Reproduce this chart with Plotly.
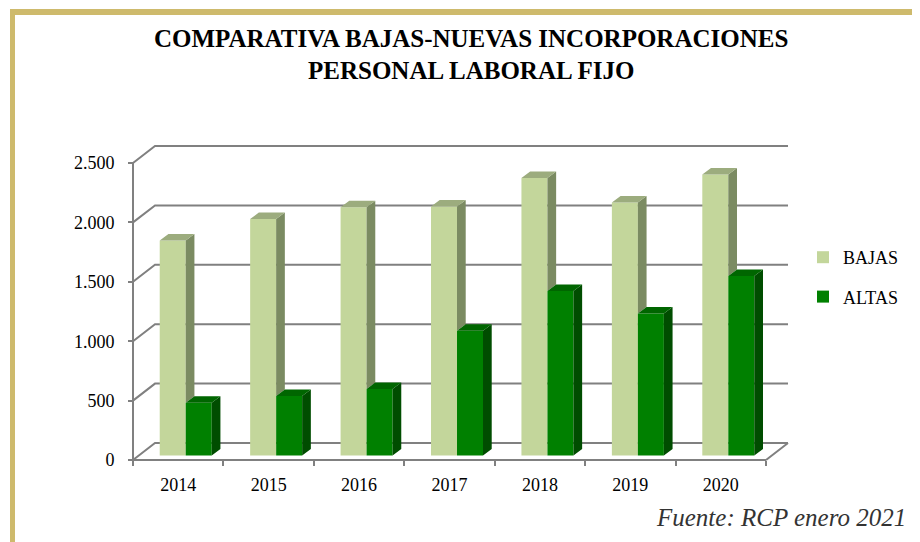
import plotly.graph_objects as go

# ---------------- data ----------------
years = ["2014", "2015", "2016", "2017", "2018", "2019", "2020"]
bajas = [1810, 1990, 2090, 2095, 2335, 2130, 2365]
altas = [445, 500, 560, 1050, 1385, 1195, 1510]
y_ticks = [0, 500, 1000, 1500, 2000, 2500]
y_tick_labels = ["0", "500", "1.000", "1.500", "2.000", "2.500"]

title_lines = ["COMPARATIVA BAJAS-NUEVAS INCORPORACIONES", "PERSONAL LABORAL FIJO"]
source_text = "Fuente: RCP enero 2021"

# ---------------- geometry (screen pixels) ----------------
OFF = 8                                       # page body margin
W, H = 920 - OFF, 542 - OFF
PL, PR, PT, PB = 120, 795, 138, 468          # plot area in screen pixels
X0PX, XSTEP = 133.0, 90.43                    # front axis left edge / px per category
Y0PX, YSCALE = 460.0, 297.0 / 2500.0          # front zero line / px per unit

def ux(px):
    return px / XSTEP

def uy(px):
    return px / YSCALE

def paper_x(px):
    return (px - PL) / (PR - PL)

def paper_y(py):
    return (PB - py) / (PB - PT)

n = len(years)
pos = list(range(n))
x_range = [-0.5 - ux(X0PX - PL), -0.5 + ux(PR - X0PX)]
y_range = [-uy(PB - Y0PX), uy(Y0PX - PT)]

WALL_DX, WALL_DY = ux(22), uy(17)
BASE = uy(4.5)
BAR_OFF, BAR_W = -ux(18.5), ux(26)
BDX, BDY = ux(8.7), uy(6.5)

C_BAJ, C_BAJ_SIDE, C_BAJ_TOP = "#C3D69B", "#7B8B62", "#9CAC7E"
C_ALT, C_ALT_SIDE, C_ALT_TOP = "#008000", "#004D00", "#006600"
GRID = "#808080"
FONT = "Liberation Serif, Times New Roman, serif"

fig = go.Figure()

fig.add_trace(go.Bar(
    x=pos, y=bajas, base=BASE, width=BAR_W, offset=BAR_OFF,
    marker=dict(color=C_BAJ, line=dict(width=0)), name="BAJAS",
    legendgroup="b", hoverinfo="skip"))
fig.add_trace(go.Bar(
    x=pos, y=altas, base=BASE, width=BAR_W, offset=BAR_OFF + BAR_W,
    marker=dict(color=C_ALT, line=dict(width=0)), name="ALTAS",
    legendgroup="a", hoverinfo="skip"))

def faces(values, offset, lower=None):
    sx, sy, tx, ty = [], [], [], []
    for i, v in enumerate(values):
        xl = pos[i] + offset
        xr = xl + BAR_W
        top = BASE + v
        bot = BASE if lower is None else BASE + min(lower[i], v)
        if top > bot:
            sx += [xr, xr + BDX, xr + BDX, xr, xr, None]
            sy += [bot, bot + BDY, top + BDY, top, bot, None]
        tx += [xl, xl + BDX, xr + BDX, xr, xl, None]
        ty += [top, top + BDY, top + BDY, top, top, None]
    return sx, sy, tx, ty

for vals, off, low, cs, ct in [
    (bajas, BAR_OFF, altas, C_BAJ_SIDE, C_BAJ_TOP),
    (altas, BAR_OFF + BAR_W, None, C_ALT_SIDE, C_ALT_TOP),
]:
    sx, sy, tx, ty = faces(vals, off, low)
    fig.add_trace(go.Scatter(x=sx, y=sy, mode="lines", fill="toself", fillcolor=cs,
                             line=dict(width=0, color=cs), showlegend=False, hoverinfo="skip"))
    fig.add_trace(go.Scatter(x=tx, y=ty, mode="lines", fill="toself", fillcolor=ct,
                             line=dict(width=0, color=ct), showlegend=False, hoverinfo="skip"))

xl_front, xr_front = -0.5, n - 0.5
parts = []
for v in y_ticks:
    parts.append(f"M{xl_front},{v} L{xl_front + WALL_DX},{v + WALL_DY} L{xr_front + WALL_DX},{v + WALL_DY}")
parts.append(f"M{xr_front},0 L{xr_front + WALL_DX},{WALL_DY}")
parts.append(f"M{xl_front},{y_ticks[-1]} L{xl_front},0 L{xr_front},0")
shapes = [dict(type="path", xref="x", yref="y", path=" ".join(parts),
               line=dict(color=GRID, width=2), layer="below")]

gold = "#CEBA6C"
shapes.append(dict(type="rect", xref="paper", yref="paper",
                   x0=paper_x(10), x1=paper_x(930), y0=paper_y(9), y1=paper_y(15),
                   fillcolor=gold, line=dict(width=0), layer="above"))
shapes.append(dict(type="rect", xref="paper", yref="paper",
                   x0=paper_x(10), x1=paper_x(15), y0=paper_y(9), y1=paper_y(550),
                   fillcolor=gold, line=dict(width=0), layer="above"))

annotations = [
    dict(text=f"<b>{title_lines[0]}</b>", xref="paper", yref="paper",
         x=paper_x(471), y=paper_y(39), xanchor="center", yanchor="middle",
         showarrow=False, font=dict(family=FONT, size=25, color="#000000")),
    dict(text=f"<b>{title_lines[1]}</b>", xref="paper", yref="paper",
         x=paper_x(471), y=paper_y(71), xanchor="center", yanchor="middle",
         showarrow=False, font=dict(family=FONT, size=25, color="#000000")),
    dict(text=f"<i>{source_text}</i>", xref="paper", yref="paper",
         x=paper_x(908), y=paper_y(517), xanchor="right", yanchor="middle",
         showarrow=False, font=dict(family=FONT, size=25, color="#333333")),
]

fig.update_layout(
    width=W, height=H,
    margin=dict(l=PL - OFF, r=W - (PR - OFF), t=PT - OFF, b=H - (PB - OFF), pad=0),
    paper_bgcolor="white", plot_bgcolor="white",
    barmode="overlay",
    separators=",.",
    font=dict(family=FONT, size=18, color="#000000"),
    xaxis=dict(range=x_range, tickmode="array", tickvals=pos, ticktext=years,
               ticks="", showgrid=False, zeroline=False, showline=False,
               anchor="free", position=paper_y(Y0PX), ticklabelstandoff=12,
               tickfont=dict(family=FONT, size=18, color="#000000"),
               minor=dict(tickmode="array", tickvals=[p - 0.5 for p in pos] + [n - 0.5],
                          ticks="outside", ticklen=5, tickwidth=2, tickcolor=GRID)),
    yaxis=dict(range=y_range, tickmode="array", tickvals=y_ticks, ticktext=y_tick_labels,
               ticks="outside", ticklen=5, tickwidth=2, tickcolor=GRID,
               showgrid=False, zeroline=False, showline=False,
               anchor="free", position=paper_x(X0PX), ticklabelstandoff=10,
               tickfont=dict(family=FONT, size=18, color="#000000")),
    legend=dict(x=paper_x(803), y=paper_y(239), xanchor="left", yanchor="top",
                traceorder="grouped", tracegroupgap=13,
                font=dict(family=FONT, size=18, color="#000000"),
                bgcolor="rgba(0,0,0,0)"),
    shapes=shapes,
    annotations=annotations,
    showlegend=True,
)

fig.write_html("out.html")
